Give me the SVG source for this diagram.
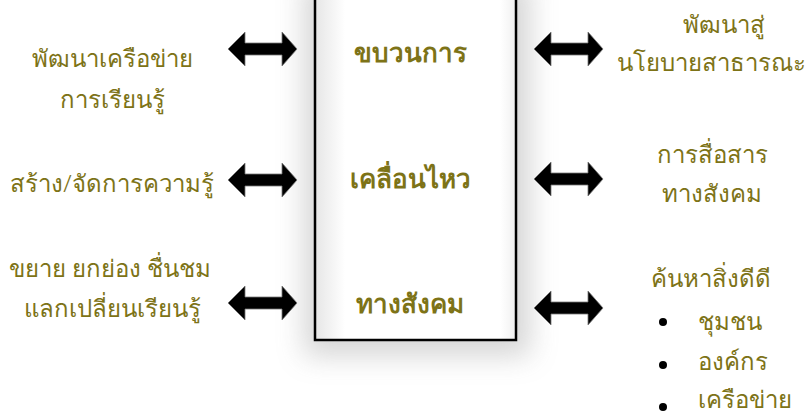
<svg xmlns="http://www.w3.org/2000/svg" width="808" height="418" viewBox="0 0 808 418">
<defs>
<style>
.t{font-family:"Noto Sans","DejaVu Sans",sans-serif;font-size:24px;font-weight:300;fill:#7d7317;text-anchor:middle}
.l{text-anchor:start}
.m{font-family:"Liberation Serif","DejaVu Serif",serif;font-size:26px;font-weight:bold;fill:#7d7317;text-anchor:middle}
.ar{fill:#000;stroke:#777;stroke-width:0.8}
</style>
<filter id="sh" x="-50%" y="-50%" width="200%" height="200%"><feGaussianBlur stdDeviation="14"/></filter>
<linearGradient id="bg" x1="0" y1="0" x2="1" y2="0">
<stop offset="0" stop-color="#e6e6e6"/><stop offset="0.15" stop-color="#fff"/><stop offset="0.92" stop-color="#fff"/><stop offset="1" stop-color="#f0f0f0"/>
</linearGradient>
<path id="arr" d="M0,0 L17,-17 L17,-6 L54,-6 L54,-17 L69,0 L54,17 L54,6 L17,6 L17,17 Z"/>
</defs>
<rect width="808" height="418" fill="#fff"/>
<g id="center">
<rect x="304" y="-20" width="226" height="376" fill="#888" opacity="0.35" filter="url(#sh)"/>
<rect x="315" y="-5" width="201" height="345" fill="url(#bg)" stroke="#000" stroke-width="2.5"/>
<text class="m" x="410" y="62">ขบวนการ</text>
<text class="m" x="410" y="188">เคลื่อนไหว</text>
<text class="m" x="410" y="313">ทางสังคม</text>
</g>
<g id="connectors">
<use href="#arr" class="ar" x="228" y="49"/>
<use href="#arr" class="ar" x="228" y="180"/>
<use href="#arr" class="ar" x="228" y="303"/>
<use href="#arr" class="ar" x="534" y="49"/>
<use href="#arr" class="ar" x="534" y="179"/>
<use href="#arr" class="ar" x="534" y="308"/>
</g>
<g id="left1"><text class="t" x="112" y="67">พัฒนาเครือข่าย</text><text class="t" x="112" y="108">การเรียนรู้</text></g>
<g id="left2"><text class="t" x="112" y="192">สร้าง/จัดการความรู้</text></g>
<g id="left3"><text class="t" x="110" y="277">ขยาย ยกย่อง ชื่นชม</text><text class="t" x="112" y="317">แลกเปลี่ยนเรียนรู้</text></g>
<g id="right1"><text class="t" x="724" y="33">พัฒนาสู่</text><text class="t" x="711" y="71">นโยบายสาธารณะ</text></g>
<g id="right2"><text class="t" x="712" y="163">การสื่อสาร</text><text class="t" x="712" y="202">ทางสังคม</text></g>
<g id="right3"><text class="t" x="711" y="287">ค้นหาสิ่งดีดี</text>
<circle cx="663" cy="322" r="4"/><text class="t l" x="698" y="330">ชุมชน</text>
<circle cx="663" cy="365" r="4"/><text class="t l" x="698" y="370">องค์กร</text>
<circle cx="663" cy="407" r="4"/><text class="t l" x="698" y="408">เครือข่าย</text></g>
</svg>
